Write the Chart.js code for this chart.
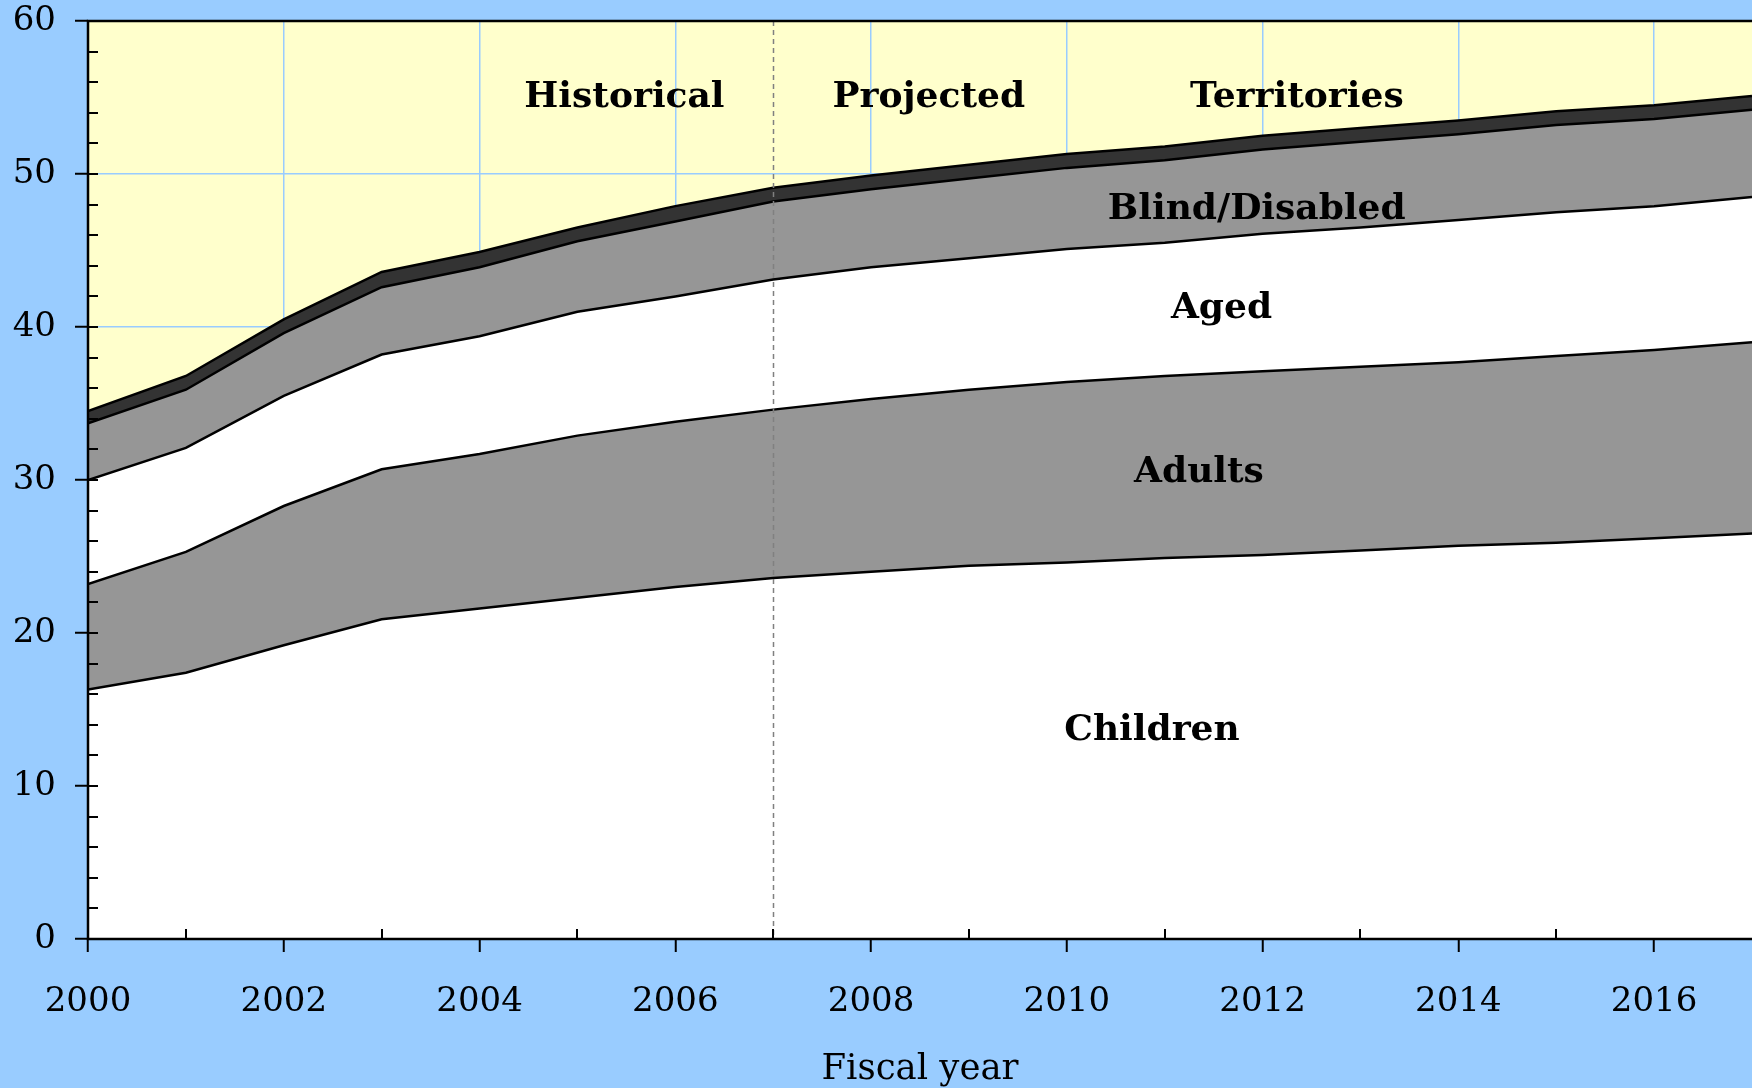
<!DOCTYPE html>
<html>
<head>
<meta charset="utf-8">
<script src="https://cdn.jsdelivr.net/npm/chart.js@4.4.0/dist/chart.umd.min.js"></script>
<style>
  html, body { margin: 0; padding: 0; background: #99ccff; }
  #chart { display: block; }
</style>
</head>
<body>
<canvas id="chart" width="1752" height="1088"></canvas>
<script>
// === Recipients by category, stacked areas ===
const years = [2000, 2001, 2002, 2003, 2004, 2005, 2006, 2007, 2008, 2009, 2010, 2011, 2012, 2013, 2014, 2015, 2016, 2017];
const children    = [16.3, 17.4, 19.2, 20.9, 21.6, 22.3, 23.0, 23.6, 24.0, 24.4, 24.6, 24.9, 25.1, 25.4, 25.7, 25.9, 26.2, 26.5];
const adults      = [6.9, 7.9, 9.1, 9.8, 10.1, 10.6, 10.8, 11.0, 11.3, 11.5, 11.8, 11.9, 12.0, 12.0, 12.0, 12.2, 12.3, 12.5];
const aged        = [6.8, 6.8, 7.2, 7.5, 7.7, 8.1, 8.2, 8.5, 8.6, 8.6, 8.7, 8.7, 9.0, 9.1, 9.3, 9.4, 9.4, 9.5];
const blind       = [3.7, 3.8, 4.1, 4.4, 4.5, 4.6, 4.9, 5.1, 5.1, 5.2, 5.3, 5.4, 5.5, 5.6, 5.6, 5.7, 5.7, 5.7];
const territories = [0.8, 0.9, 0.9, 1.0, 1.0, 0.9, 1.0, 0.9, 0.9, 0.9, 0.9, 0.9, 0.9, 0.9, 0.9, 0.9, 0.9, 0.9];
const tickYears = [2000, 2002, 2004, 2006, 2008, 2010, 2012, 2014, 2016];
const projectionStart = 2007;

const seriesNames = ["Children", "Adults", "Aged", "Blind/Disabled", "Territories"];
const seriesData = [children, adults, aged, blind, territories];
const seriesFill = ["#ffffff", "#969696", "#ffffff", "#969696", "#333333"];

// text drawn on the plot, anchored in data units (year, value)
const plotLabels = [
  { text: "Historical",     x: 2005.48, y: 55.0 },
  { text: "Projected",      x: 2008.59, y: 55.0 },
  { text: "Territories",    x: 2012.35, y: 55.0 },
  { text: "Blind/Disabled", x: 2011.94, y: 47.7 },
  { text: "Aged",           x: 2011.58, y: 41.2 },
  { text: "Adults",         x: 2011.35, y: 30.5 },
  { text: "Children",       x: 2010.87, y: 13.6 }
];

const SERIF = "'DejaVu Serif', 'Liberation Serif', serif";

const decor = {
  id: "decor",
  beforeDraw(chart) {
    const { ctx, chartArea: a } = chart;
    ctx.save();
    ctx.fillStyle = "#ffffcc";  // plot background
    ctx.fillRect(a.left, a.top, a.right - a.left, a.bottom - a.top);
    ctx.restore();
  },
  afterDatasetsDraw(chart) {
    const { ctx, chartArea: a, scales } = chart;
    const x = scales.x, y = scales.y;
    ctx.save();

    // historical / projected divider
    const px = Math.round(x.getPixelForValue(projectionStart)) + 0.5;
    ctx.strokeStyle = "#808080";
    ctx.lineWidth = 1.5;
    ctx.setLineDash([5, 4]);
    ctx.beginPath();
    ctx.moveTo(px, a.top);
    ctx.lineTo(px, a.bottom);
    ctx.stroke();
    ctx.setLineDash([]);

    // frame: top, left, bottom
    ctx.strokeStyle = "#000";
    ctx.lineWidth = 2.5;
    ctx.beginPath();
    ctx.moveTo(a.right, a.top);
    ctx.lineTo(a.left, a.top);
    ctx.lineTo(a.left, a.bottom);
    ctx.lineTo(a.right, a.bottom);
    ctx.stroke();

    // inner ticks (every 2 on y, odd years on x)
    ctx.lineWidth = 2;
    ctx.beginPath();
    for (let v = 2; v < 60; v += 2) {
      const py = Math.round(y.getPixelForValue(v));
      ctx.moveTo(a.left, py);
      ctx.lineTo(a.left + 10, py);
    }
    for (let yr = 2001; yr <= 2015; yr += 2) {
      const tx = Math.round(x.getPixelForValue(yr));
      ctx.moveTo(tx, a.bottom);
      ctx.lineTo(tx, a.bottom - 10);
    }
    ctx.stroke();

    // region labels
    ctx.fillStyle = "#000";
    ctx.font = "bold 36px " + SERIF;
    ctx.textAlign = "center";
    ctx.textBaseline = "middle";
    plotLabels.forEach(l => {
      ctx.fillText(l.text, x.getPixelForValue(l.x), y.getPixelForValue(l.y));
    });
    ctx.restore();
  }
};

const ctx = document.getElementById("chart").getContext("2d");
new Chart(ctx, {
  type: "line",
  data: {
    datasets: seriesNames.map((name, i) => ({
      label: name,
      data: years.map((yr, j) => ({ x: yr, y: seriesData[i][j] })),
      backgroundColor: seriesFill[i],
      borderColor: "#000",
      borderWidth: 2.5,
      pointRadius: 0,
      tension: 0,
      fill: i === 0 ? "origin" : "-1"
    }))
  },
  options: {
    responsive: false,
    animation: false,
    layout: { padding: 0 },
    plugins: {
      legend: { display: false },
      tooltip: { enabled: false }
    },
    scales: {
      x: {
        type: "linear",
        min: 2000,
        max: 2017,
        afterFit(scale) { scale.height = 149; },
        afterBuildTicks(scale) { scale.ticks = tickYears.map(v => ({ value: v })); },
        ticks: {
          autoSkip: false,
          maxRotation: 0,
          padding: 30,
          color: "#000",
          font: { family: SERIF, size: 34 },
          callback: v => String(v)
        },
        grid: {
          color: "#99ccff",
          lineWidth: 1.5,
          tickColor: "#000",
          tickWidth: 2,
          tickLength: 13
        },
        border: { display: false },
        title: {
          display: true,
          text: "Fiscal year",
          color: "#000",
          font: { family: SERIF, size: 35.5, lineHeight: 1.05 },
          padding: { top: 0, bottom: 0 }
        }
      },
      y: {
        stacked: true,
        min: 0,
        max: 60,
        afterFit(scale) {
          scale.width = 88;
          scale.paddingTop = 21;
          scale.paddingBottom = 0;
        },
        ticks: {
          stepSize: 10,
          padding: 19,
          color: "#000",
          font: { family: SERIF, size: 34 }
        },
        grid: {
          color: "#99ccff",
          lineWidth: 1.5,
          tickColor: "#000",
          tickWidth: 2,
          tickLength: 13
        },
        border: { display: false }
      }
    }
  },
  plugins: [decor]
});
</script>
</body>
</html>
